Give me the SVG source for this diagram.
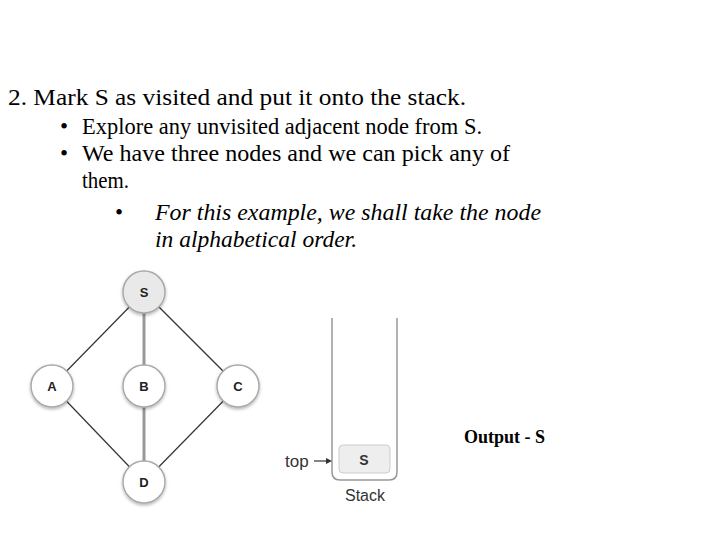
<svg xmlns="http://www.w3.org/2000/svg" width="720" height="540" viewBox="0 0 720 540">
<style>
.t{font-family:"Liberation Serif","Times New Roman",serif;font-size:23px;fill:#000}
.i{font-style:italic}
.n circle{fill:#fff;stroke:#aaa;stroke-width:1.5;filter:url(#sh)}
.n text{font-family:"Liberation Sans",Arial,sans-serif;font-size:13px;font-weight:bold;fill:#222;text-anchor:middle}
.thin{stroke:#333;stroke-width:1.2}
.thick{stroke:#999;stroke-width:3}
.s{font-family:"Liberation Sans",Arial,sans-serif;fill:#333}
</style>
<defs>
<filter id="sh" x="-30%" y="-30%" width="160%" height="160%"><feDropShadow dx="0" dy="1.5" stdDeviation="1.5" flood-color="#000" flood-opacity="0.3"/></filter>
</defs>
<rect width="720" height="540" fill="#fff"/>
<g id="text">
<text class="t" x="8" y="105" textLength="458" lengthAdjust="spacingAndGlyphs">2. Mark S as visited and put it onto the stack.</text>
<text class="t" x="60" y="134">•</text>
<text class="t" x="82" y="134" textLength="400" lengthAdjust="spacingAndGlyphs">Explore any unvisited adjacent node from S.</text>
<text class="t" x="60" y="161">•</text>
<text class="t" x="82" y="161" textLength="428" lengthAdjust="spacingAndGlyphs">We have three nodes and we can pick any of</text>
<text class="t" x="82" y="188" textLength="47" lengthAdjust="spacingAndGlyphs">them.</text>
<text class="t" x="115" y="220">•</text>
<text class="t i" x="155" y="220" textLength="386" lengthAdjust="spacingAndGlyphs">For this example, we shall take the node</text>
<text class="t i" x="155" y="247" textLength="202" lengthAdjust="spacingAndGlyphs">in alphabetical order.</text>
</g>
<g id="connectors">
<line class="thin" x1="144" y1="292" x2="52" y2="386"/>
<line class="thin" x1="144" y1="292" x2="238" y2="386"/>
<line class="thin" x1="52" y1="386" x2="144" y2="482"/>
<line class="thin" x1="238" y1="386" x2="144" y2="482"/>
<line class="thick" x1="144" y1="292" x2="144" y2="482"/>
</g>
<g id="S" class="n"><circle cx="144" cy="292" r="21" style="fill:#e9e9e9"/><text x="144" y="297">S</text></g>
<g id="A" class="n"><circle cx="52" cy="386" r="21"/><text x="52" y="391">A</text></g>
<g id="B" class="n"><circle cx="144" cy="386" r="21"/><text x="144" y="391">B</text></g>
<g id="C" class="n"><circle cx="238" cy="386" r="21"/><text x="238" y="391">C</text></g>
<g id="D" class="n"><circle cx="144" cy="482" r="21"/><text x="144" y="487">D</text></g>
<g id="stack">
<path d="M332 318 V472 Q332 480 340 480 H389 Q397 480 397 472 V318" fill="none" stroke="#999" stroke-width="1.5"/>
<rect x="339" y="445" width="51" height="28" rx="4" fill="#eee" stroke="#ccc"/>
<text class="s" x="364" y="465" font-size="14" font-weight="bold" text-anchor="middle">S</text>
<text class="s" x="365" y="501" font-size="16" text-anchor="middle">Stack</text>
<text class="s" x="285" y="467" font-size="17">top</text>
<line x1="314" y1="461" x2="327" y2="461" stroke="#333" stroke-width="1.2"/>
<path d="M332 461 L326 458 L326 464 Z" fill="#333"/>
</g>
<text id="output" x="464" y="443" font-family="Liberation Serif,'Times New Roman',serif" font-size="18" font-weight="bold">Output - S</text>
</svg>
